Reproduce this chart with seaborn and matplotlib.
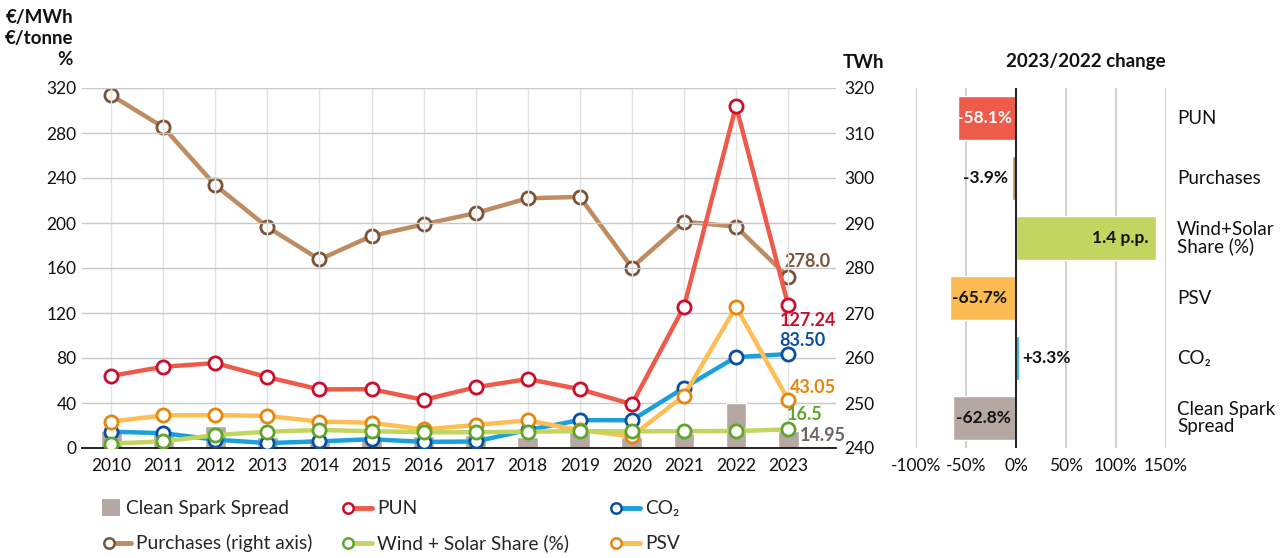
import numpy as np
import pandas as pd
import matplotlib.pyplot as plt
import matplotlib.transforms as mtransforms
from matplotlib.lines import Line2D
from matplotlib.patches import Patch
from matplotlib.legend_handler import HandlerLine2D
import seaborn as sns

sns.set_theme(style="white")
plt.rcParams["font.family"] = ["Lato", "DejaVu Sans"]

# --------------------------------------------------------------------------
# Data
# --------------------------------------------------------------------------
years = list(range(2010, 2024))
pun = [64.1, 72.2, 75.5, 63.0, 52.1, 52.3, 42.8, 54.0, 61.3, 52.3, 38.9, 125.5, 304.0, 127.24]
psv = [23.5, 29.0, 29.3, 28.5, 23.5, 22.5, 16.5, 20.5, 24.5, 15.8, 10.5, 46.5, 125.5, 43.05]
co2 = [14.5, 13.2, 7.4, 4.4, 5.9, 7.8, 5.4, 5.8, 16.0, 24.8, 24.7, 53.5, 80.8, 83.50]
wind_solar = [4.0, 5.8, 11.5, 14.5, 16.0, 15.0, 14.0, 14.0, 14.5, 15.0, 14.8, 15.0, 15.1, 16.5]
spark = [15.0, 13.5, 19.5, 10.0, 8.5, 9.5, 11.0, 12.0, 10.0, 14.0, 10.0, 13.0, 40.2, 14.95]
purchases = [318.4, 311.3, 298.4, 289.1, 281.9, 287.1, 289.7, 292.2, 295.5, 295.8,
             280.1, 290.3, 289.2, 278.0]

change_labels = ["PUN", "Purchases", "Wind+Solar\nShare (%)", "PSV", "CO₂", "Clean Spark\nSpread"]
change_values = [-58.1, -3.9, 140.0, -65.7, 3.3, -62.8]
change_text = ["-58.1%", "-3.9%", "1.4 p.p.", "-65.7%", "+3.3%", "-62.8%"]

# colours
C_SPARK = "#B5A8A3"
C_PUN, E_PUN = "#EE5B4B", "#C8102E"
C_CO2, E_CO2 = "#1CA0DC", "#0A4F9E"
C_PSV, E_PSV = "#FFBE55", "#E8850C"
C_WS, E_WS = "#C2D55F", "#5FA52C"
C_PUR, E_PUR = "#BF8B60", "#7A5338"
TXT = "#111111"

df = pd.DataFrame({"year": [str(y) for y in years], "pos": np.arange(len(years)),
                   "pun": pun, "psv": psv, "co2": co2, "ws": wind_solar,
                   "spark": spark, "purchases": purchases})

fig = plt.figure(figsize=(12.82, 5.58), dpi=100)
ax1 = fig.add_axes([82 / 1282, 110 / 558, 754 / 1282, 360 / 558])
ax2 = ax1.twinx()

# --------------------------------------------------------------------------
# Main chart
# --------------------------------------------------------------------------
sns.barplot(data=df, x="year", y="spark", ax=ax1, color=C_SPARK, saturation=1,
            width=0.4, zorder=2)


def line(ax, col, lc, ec, z):
    sns.lineplot(data=df, x="pos", y=col, ax=ax, color=lc, lw=3.2, marker="o",
                 markersize=9.5, markerfacecolor="white", markeredgecolor=ec,
                 markeredgewidth=2, zorder=z)


line(ax1, "co2", C_CO2, E_CO2, 3)
line(ax1, "psv", C_PSV, E_PSV, 4)
line(ax1, "ws", C_WS, E_WS, 5)
line(ax1, "pun", C_PUN, E_PUN, 6)
line(ax2, "purchases", C_PUR, E_PUR, 3)

ax1.set_zorder(ax2.get_zorder() + 1)
ax1.patch.set_visible(False)

ax1.set_xlim(-0.56, 13.92)
ax1.set_ylim(0, 320)
ax1.set_yticks(range(0, 321, 40))
ax1.set_xticks(range(len(years)))
ax1.set_xticklabels([str(y) for y in years])
ax2.set_ylim(240, 320)
ax2.set_yticks(range(240, 321, 10))
for ax in (ax1, ax2):
    ax.set_xlabel("")
    ax.set_ylabel("")
    for s in ax.spines.values():
        s.set_visible(False)
ax1.spines["bottom"].set_visible(True)
ax1.spines["bottom"].set_color(TXT)
ax1.spines["bottom"].set_linewidth(1.3)
ax1.tick_params(axis="both", length=0, labelsize=12.5, colors=TXT)
ax1.tick_params(axis="x", pad=7)
ax1.tick_params(axis="y", pad=4)
ax2.tick_params(axis="y", length=0, labelsize=12.5, colors=TXT, pad=6)
ax1.yaxis.grid(True, color="#C8C8C8", lw=1)
ax1.xaxis.grid(True, color="#E2E2E2", lw=1)
ax1.set_axisbelow(True)

# end-of-series value labels
ann = [
    (ax2, purchases[-1], "278.0", E_PUR, (14, 11)),
    (ax1, pun[-1], "127.24", E_PUN, (14, -11.5)),
    (ax1, co2[-1], "83.50", E_CO2, (10, 10)),
    (ax1, psv[-1], "43.05", E_PSV, (18, 9)),
    (ax1, wind_solar[-1], "16.5", E_WS, (12, 10.5)),
    (ax1, spark[-1], "14.95", "#6E635E", (25, -3)),
]
for ax, val, txt, col, off in ann:
    ax.annotate(txt, (13, val), xytext=off, textcoords="offset points", ha="center",
                va="center", fontsize=13, fontweight="bold", color=col, zorder=10)

fig.text(73 / 1282, 1 - 9 / 558, "€/MWh\n€/tonne\n%", ha="right", va="top",
         multialignment="right", fontsize=13.5, fontweight="bold", color=TXT,
         linespacing=1.27)
fig.text(843 / 1282, 1 - 62 / 558, "TWh", ha="left", va="center", fontsize=13.5,
         fontweight="bold", color=TXT)

# --------------------------------------------------------------------------
# Right panel: 2023/2022 change
# --------------------------------------------------------------------------
ax3 = fig.add_axes([916 / 1282, 110 / 558, 250 / 1282, 360 / 558])
cdf = pd.DataFrame({"label": change_labels, "value": change_values})
bar_colors = [C_PUN, C_PUR, C_WS, "#FBBB52", C_CO2, C_SPARK]
sns.barplot(data=cdf, x="value", y="label", hue="label", palette=bar_colors,
            saturation=1, legend=False, orient="h", width=0.72, ax=ax3, zorder=2)
ax3.set_xlim(-100, 150)
ax3.set_ylim(5.5, -0.5)
ax3.set_xticks(range(-100, 151, 50))
ax3.set_xticklabels([f"{v}%" for v in range(-100, 151, 50)])
ax3.set_yticks([])
ax3.set_xlabel("")
ax3.set_ylabel("")
for s in ax3.spines.values():
    s.set_visible(False)
ax3.xaxis.grid(True, color="#C8C8C8", lw=1.2)
ax3.set_axisbelow(True)
ax3.axvline(0, color=TXT, lw=1.3, zorder=3)
ax3.tick_params(axis="x", length=0, labelsize=12.5, colors=TXT, pad=7)

# value labels on the bars: (x, ha, colour)
lab_pos = [(-4, "right", "white"), (-8, "right", TXT), (133, "right", TXT),
           (-9, "right", TXT), (6, "left", TXT), (-5, "right", TXT)]
for i, (txt, (x, ha, col)) in enumerate(zip(change_text, lab_pos)):
    ax3.text(x, i, txt, ha=ha, va="center", fontsize=12.5, fontweight="bold",
             color=col, zorder=5)

trans = mtransforms.blended_transform_factory(ax3.transAxes, ax3.transData)
for i, lab in enumerate(change_labels):
    ax3.text(1.044, i, lab, transform=trans, ha="left", va="center", fontsize=13.5,
             color=TXT, linespacing=0.95)

fig.text(1086 / 1282, 1 - 61 / 558, "2023/2022 change", ha="center", va="center",
         fontsize=13.5, fontweight="bold", color=TXT)


# --------------------------------------------------------------------------
# Legend: marker sits at the left end of each line handle
# --------------------------------------------------------------------------
class LeftMarkerHandler(HandlerLine2D):
    def create_artists(self, legend, orig_handle, xdescent, ydescent, width,
                       height, fontsize, trans):
        y = height / 2 - ydescent
        x0 = -xdescent
        r = 5
        ln = Line2D([x0 + r, x0 + width], [y, y])
        self.update_prop(ln, orig_handle, legend)
        ln.set_marker("None")
        mk = Line2D([x0 + r], [y])
        self.update_prop(mk, orig_handle, legend)
        mk.set_linestyle("None")
        ln.set_transform(trans)
        mk.set_transform(trans)
        return [ln, mk]


def lh(lc, ec):
    return Line2D([0, 1], [0, 0], color=lc, lw=3.5, marker="o", markersize=7.5,
                  markerfacecolor="white", markeredgecolor=ec, markeredgewidth=1.8)


# (handle left x, row centre y, handle, label, handle length)
legend_items = [
    (102, 508, Patch(facecolor=C_SPARK, edgecolor="none"), "Clean Spark Spread", 0.95),
    (102, 543, lh(C_PUR, E_PUR), "Purchases (right axis)", 1.5),
    (341, 508, lh(C_PUN, E_PUN), "PUN", 1.6),
    (341, 543, lh(C_WS, E_WS), "Wind + Solar Share (%)", 1.6),
    (609, 508, lh(C_CO2, E_CO2), "CO₂", 1.6),
    (609, 543, lh(C_PSV, E_PSV), "PSV", 1.6),
]
for x0, yc, h, lab, hl in legend_items:
    fig.legend([h], [lab], loc="center left", bbox_to_anchor=(x0 / 1282, 1 - yc / 558),
               frameon=False, fontsize=13.8, handlelength=hl, handleheight=1.0,
               handletextpad=0.28, borderpad=0, borderaxespad=0,
               handler_map={Line2D: LeftMarkerHandler()})

fig.savefig("out.png", dpi=100)
